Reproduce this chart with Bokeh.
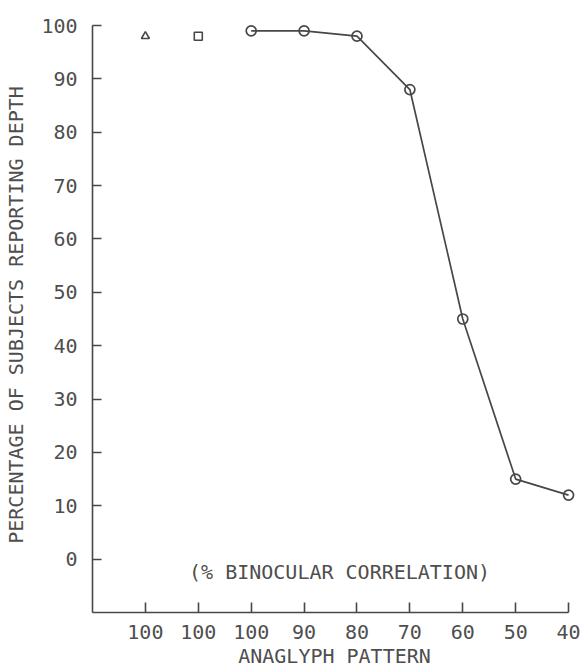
from bokeh.plotting import figure
from bokeh.models import Range1d, FixedTicker, Label
from bokeh.embed import file_html
from bokeh.resources import INLINE

# ---- data ----
pattern_labels = ["100", "100", "100", "90", "80", "70", "60", "50", "40"]
triangle_value = [98]          # first 100% pattern (triangle)
square_value = [98]            # second 100% pattern (square)
circle_values = [99, 99, 98, 88, 45, 15, 12]   # 100..40 % correlation series
y_ticks = [0, 10, 20, 30, 40, 50, 60, 70, 80, 90, 100]

positions = list(range(1, len(pattern_labels) + 1))
tri_x = positions[:1]
sq_x = positions[1:2]
circ_x = positions[2:]

FONT = "DejaVu Sans Mono"
FS = "20px"
INK = "#474747"
TXT = "#4e4e4e"

p = figure(
    frame_width=484, frame_height=595,
    min_border_left=92, min_border_right=10, min_border_top=17, min_border_bottom=57,
    x_range=Range1d(0, 9.15), y_range=Range1d(-10, 101.5),
    output_backend="svg", toolbar_location=None,
)
p.outline_line_color = None
p.grid.visible = False
p.background_fill_color = "white"
p.border_fill_color = "white"

# line + markers
p.line(circ_x, circle_values, line_color=INK, line_width=1.7)
p.scatter(circ_x, circle_values, marker="circle", size=10, fill_color=None,
          line_color=INK, line_width=1.7)
p.scatter(tri_x, triangle_value, marker="triangle", size=8, fill_color=None,
          line_color=INK, line_width=1.6)
p.scatter(sq_x, square_value, marker="square", size=8, fill_color=None,
          line_color=INK, line_width=1.6)

# x axis
xa = p.xaxis[0]
xa.ticker = FixedTicker(ticks=positions)
xa.major_label_overrides = {pos: lab for pos, lab in zip(positions, pattern_labels)}
xa.bounds = (0, positions[-1])
xa.minor_tick_line_color = None
xa.major_tick_in = 10
xa.major_tick_out = 0
xa.major_label_standoff = 12
xa.axis_label = "ANAGLYPH PATTERN"
xa.axis_label_standoff = 2

# y axis
ya = p.yaxis[0]
ya.ticker = FixedTicker(ticks=y_ticks)
ya.bounds = (-10, 100)
ya.minor_tick_line_color = None
ya.major_tick_in = 9
ya.major_tick_out = 0
ya.major_label_standoff = 15
ya.axis_label = "PERCENTAGE OF SUBJECTS REPORTING DEPTH"
ya.axis_label_standoff = 10

for ax in (xa, ya):
    ax.axis_line_color = INK
    ax.axis_line_width = 1.6
    ax.major_tick_line_color = INK
    ax.major_tick_line_width = 1.6
    ax.major_label_text_font = FONT
    ax.major_label_text_font_size = FS
    ax.major_label_text_color = TXT
    ax.axis_label_text_font = FONT
    ax.axis_label_text_font_size = FS
    ax.axis_label_text_font_style = "normal"
    ax.axis_label_text_color = TXT

p.add_layout(Label(x=4.67, y=-2.4, text="(% BINOCULAR CORRELATION)",
                   text_font=FONT, text_font_size=FS, text_color=TXT,
                   text_align="center", text_baseline="middle"))

open("out.html", "w").write(file_html(p, INLINE))
